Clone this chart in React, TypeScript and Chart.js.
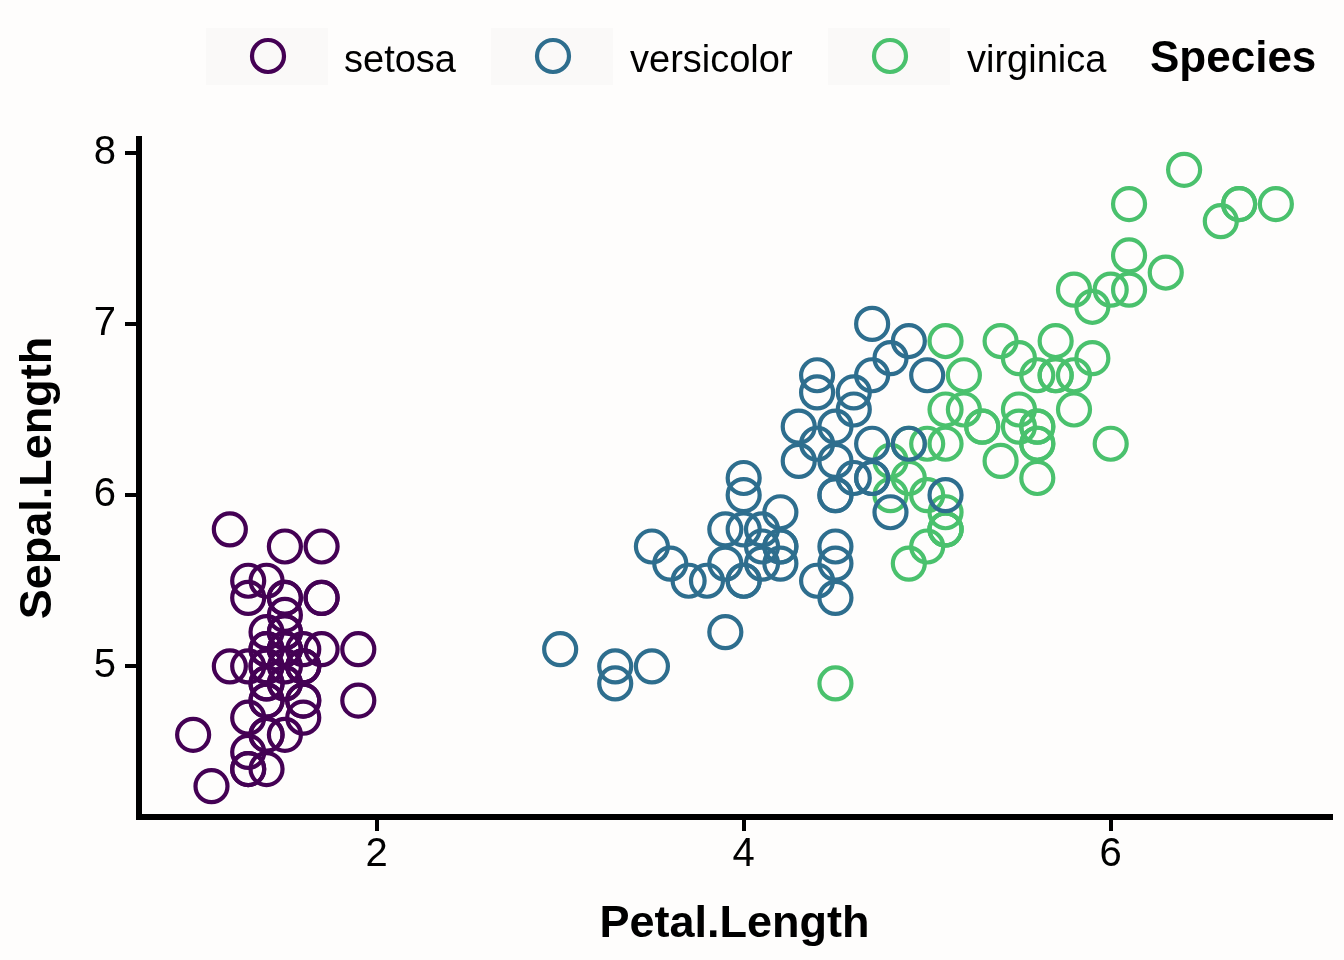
import { useEffect, useRef } from "react";
import { Chart, registerables } from "chart.js";

Chart.register(...registerables);

// Iris measurements: petal length (x) against sepal length (y), one pair of arrays per species
const species = ["setosa", "versicolor", "virginica"];

const setosaPetal = [1.4, 1.4, 1.3, 1.5, 1.4, 1.7, 1.4, 1.5, 1.4, 1.5, 1.5, 1.6, 1.4, 1.1, 1.2, 1.5, 1.3, 1.4, 1.7, 1.5, 1.7, 1.5, 1.0, 1.7, 1.9, 1.6, 1.6, 1.5, 1.4, 1.6, 1.6, 1.5, 1.5, 1.4, 1.5, 1.2, 1.3, 1.4, 1.3, 1.5, 1.3, 1.3, 1.3, 1.6, 1.9, 1.4, 1.6, 1.4, 1.5, 1.4];
const setosaSepal = [5.1, 4.9, 4.7, 4.6, 5.0, 5.4, 4.6, 5.0, 4.4, 4.9, 5.4, 4.8, 4.8, 4.3, 5.8, 5.7, 5.4, 5.1, 5.7, 5.1, 5.4, 5.1, 4.6, 5.1, 4.8, 5.0, 5.0, 5.2, 5.2, 4.7, 4.8, 5.4, 5.2, 5.5, 4.9, 5.0, 5.5, 4.9, 4.4, 5.1, 5.0, 4.5, 4.4, 5.0, 5.1, 4.8, 5.1, 4.6, 5.3, 5.0];

const versicolorPetal = [4.7, 4.5, 4.9, 4.0, 4.6, 4.5, 4.7, 3.3, 4.6, 3.9, 3.5, 4.2, 4.0, 4.7, 3.6, 4.4, 4.5, 4.1, 4.5, 3.9, 4.8, 4.0, 4.9, 4.7, 4.3, 4.4, 4.8, 5.0, 4.5, 3.5, 3.8, 3.7, 3.9, 5.1, 4.5, 4.5, 4.7, 4.4, 4.1, 4.0, 4.4, 4.6, 4.0, 3.3, 4.2, 4.2, 4.2, 4.3, 3.0, 4.1];
const versicolorSepal = [7.0, 6.4, 6.9, 5.5, 6.5, 5.7, 6.3, 4.9, 6.6, 5.2, 5.0, 5.9, 6.0, 6.1, 5.6, 6.7, 5.6, 5.8, 6.2, 5.6, 5.9, 6.1, 6.3, 6.1, 6.4, 6.6, 6.8, 6.7, 6.0, 5.7, 5.5, 5.5, 5.8, 6.0, 5.4, 6.0, 6.7, 6.3, 5.6, 5.5, 5.5, 6.1, 5.8, 5.0, 5.6, 5.7, 5.7, 6.2, 5.1, 5.7];

const virginicaPetal = [6.0, 5.1, 5.9, 5.6, 5.8, 6.6, 4.5, 6.3, 5.8, 6.1, 5.1, 5.3, 5.5, 5.0, 5.1, 5.3, 5.5, 6.7, 6.9, 5.0, 5.7, 4.9, 6.7, 4.9, 5.7, 6.0, 4.8, 4.9, 5.6, 5.8, 6.1, 6.4, 5.6, 5.1, 5.6, 6.1, 5.6, 5.5, 4.8, 5.4, 5.6, 5.1, 5.1, 5.9, 5.7, 5.2, 5.0, 5.2, 5.4, 5.1];
const virginicaSepal = [6.3, 5.8, 7.1, 6.3, 6.5, 7.6, 4.9, 7.3, 6.7, 7.2, 6.5, 6.4, 6.8, 5.7, 5.8, 6.4, 6.5, 7.7, 7.7, 6.0, 6.9, 5.6, 7.7, 6.3, 6.7, 7.2, 6.2, 6.1, 6.4, 7.2, 7.4, 7.9, 6.4, 6.3, 6.1, 7.7, 6.3, 6.4, 6.0, 6.9, 6.7, 6.9, 5.8, 6.8, 6.7, 6.7, 6.3, 6.5, 6.2, 5.9];

const speciesColors = ["#440154", "#2E6E8E", "#4AC16D"];

const xTicks = [2, 4, 6];
const yTicks = [5, 6, 7, 8];
const xLimits = [0.705, 7.195];
const yLimits = [4.12, 8.08];

const xTitle = "Petal.Length";
const yTitle = "Sepal.Length";
const legendTitle = "Species";

const FONT = "'Liberation Sans', Arial, Helvetica, sans-serif";
const W = 1344;
const H = 960;
const BG = "#FEFDFC";
const POINT_R = 16;
const POINT_LW = 4.2;

// legend layout: key centre and label start for each entry
const legendKeyX = [268, 553, 890];
const legendLabelX = [344, 630, 967];

const toPoints = (xs: number[], ys: number[]) => xs.map((x, i) => ({ x, y: ys[i] }));

const seriesData = [
  toPoints(setosaPetal, setosaSepal),
  toPoints(versicolorPetal, versicolorSepal),
  toPoints(virginicaPetal, virginicaSepal),
];

const decorations = {
  id: "decorations",
  beforeDraw(chart: Chart) {
    const ctx = chart.ctx;
    ctx.save();
    ctx.fillStyle = BG;
    ctx.fillRect(0, 0, W, H);

    // legend
    species.forEach((name, i) => {
      ctx.fillStyle = "#FAF9F8";
      ctx.fillRect(legendKeyX[i] - 62, 28, 122, 57);
      ctx.beginPath();
      ctx.arc(legendKeyX[i], 56, POINT_R, 0, Math.PI * 2);
      ctx.lineWidth = POINT_LW;
      ctx.strokeStyle = speciesColors[i];
      ctx.stroke();
      ctx.fillStyle = "#000";
      ctx.font = `38px ${FONT}`;
      ctx.textAlign = "left";
      ctx.textBaseline = "alphabetic";
      ctx.fillText(name, legendLabelX[i], 72);
    });
    ctx.font = `bold 44px ${FONT}`;
    ctx.fillText(legendTitle, 1150, 72);
    ctx.restore();
  },
  afterDraw(chart: Chart) {
    const ctx = chart.ctx;
    const { left, right, top, bottom } = chart.chartArea;
    ctx.save();
    // axis lines with square ends
    ctx.strokeStyle = "#000";
    ctx.lineWidth = 6;
    ctx.lineCap = "square";
    ctx.beginPath();
    ctx.moveTo(left, top);
    ctx.lineTo(left, bottom);
    ctx.lineTo(right, bottom);
    ctx.stroke();

    // axis titles
    ctx.fillStyle = "#000";
    ctx.font = `bold 45px ${FONT}`;
    ctx.textAlign = "center";
    ctx.textBaseline = "alphabetic";
    ctx.fillText(xTitle, (left + right) / 2, 937);
    ctx.translate(51, (top + bottom) / 2);
    ctx.rotate(-Math.PI / 2);
    ctx.fillText(yTitle, 0, 0);
    ctx.restore();
  },
};

export default function App() {
  const canvasRef = useRef<HTMLCanvasElement | null>(null);

  useEffect(() => {
    const canvas = canvasRef.current;
    if (!canvas) return;
    const chart = new Chart(canvas, {
      type: "scatter",
      data: {
        datasets: species.map((name, i) => ({
          label: name,
          data: seriesData[i],
          pointStyle: "circle",
          pointRadius: POINT_R,
          pointHoverRadius: POINT_R,
          pointBorderWidth: POINT_LW,
          pointBorderColor: speciesColors[i],
          pointBackgroundColor: "rgba(0,0,0,0)",
          borderColor: speciesColors[i],
          backgroundColor: "rgba(0,0,0,0)",
          clip: false as any,
        })),
      },
      options: {
        animation: false,
        responsive: false,
        devicePixelRatio: 1,
        events: [],
        layout: { autoPadding: false, padding: { top: 139, right: 14, left: 0, bottom: 0 } },
        plugins: {
          legend: { display: false },
          tooltip: { enabled: false },
          title: { display: false },
        },
        scales: {
          x: {
            type: "linear",
            min: xLimits[0],
            max: xLimits[1],
            afterBuildTicks: (scale: any) => {
              scale.ticks = xTicks.map((v) => ({ value: v }));
            },
            afterFit: (scale: any) => {
              scale.height = 143;
              scale.paddingLeft = 0;
              scale.paddingRight = 0;
            },
            border: { display: false },
            grid: {
              drawOnChartArea: false,
              drawTicks: true,
              tickLength: 14,
              lineWidth: 4,
              tickWidth: 4,
              tickColor: "#000",
              color: "#000",
            },
            ticks: {
              color: "#000",
              font: { family: FONT, size: 40 },
              padding: 0,
              maxRotation: 0,
              autoSkip: false,
              callback: (v: any) => String(v),
            },
          },
          y: {
            type: "linear",
            min: yLimits[0],
            max: yLimits[1],
            afterBuildTicks: (scale: any) => {
              scale.ticks = yTicks.map((v) => ({ value: v }));
            },
            afterFit: (scale: any) => {
              scale.width = 139;
              scale.paddingTop = 0;
              scale.paddingBottom = 0;
            },
            border: { display: false },
            grid: {
              drawOnChartArea: false,
              drawTicks: true,
              tickLength: 14,
              lineWidth: 4,
              tickWidth: 4,
              tickColor: "#000",
              color: "#000",
            },
            ticks: {
              color: "#000",
              font: { family: FONT, size: 40 },
              padding: 9,
              autoSkip: false,
              callback: (v: any) => String(v),
            },
          },
        },
      },
      plugins: [decorations],
    });
    return () => chart.destroy();
  }, []);

  return (
    <div style={{ position: "absolute", left: 0, top: 0, width: W, height: H, background: BG }}>
      <canvas ref={canvasRef} width={W} height={H} style={{ display: "block", width: W, height: H }} />
    </div>
  );
}
